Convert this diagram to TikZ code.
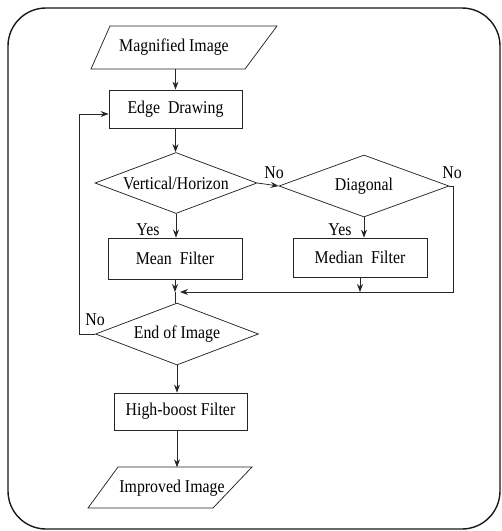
\documentclass[tikz,border=0pt]{standalone}
\usepackage{fontspec}
\setmainfont{Liberation Serif}
\usetikzlibrary{shapes.geometric,arrows.meta}
% slightly condensed lettering for the flowchart labels
\newcommand\narrowtext[1]{\scalebox{0.88}[1]{#1}}
\begin{document}
\begin{tikzpicture}[x=1pt,y=-1pt,
  line/.style={draw=black!85, line width=0.75pt},
  arr/.style={line, -{Stealth[length=8pt,width=6pt]}},
  txt/.style={font=\fontsize{18}{21}\selectfont, inner sep=0pt},
  proc/.style={rectangle, line, inner sep=0pt, font=\fontsize{18}{21}\selectfont},
  dec/.style={diamond, line, inner sep=0pt},
  io/.style={inner sep=0pt, font=\fontsize{18}{21}\selectfont},
]
\useasboundingbox (0,0) rectangle (502,531);

% outer frame
\draw[line width=1.4pt, draw=black!90, rounded corners=38pt] (8,8) rectangle (500,529);

% input / output parallelograms
\node[io, minimum width=150pt, minimum height=43pt] (mag) at (174,47.5) {\narrowtext{Magnified Image}};
\draw[line] (110,26) -- (277,26) -- (245,69) -- (91,69) -- cycle;

\node[io, minimum width=130pt, minimum height=41pt] (imp) at (172,488) {\narrowtext{Improved Image}};
\draw[line] (118,467) -- (252,467) -- (213,508) -- (88,508) -- cycle;

% process boxes
\node[proc, minimum width=133pt, minimum height=38pt] (edge) at (175.5,109) {\narrowtext{Edge\enspace Drawing}};
\node[proc, minimum width=134pt, minimum height=41pt] (mean) at (175,258.5) {\narrowtext{Mean\enspace Filter}};
\node[proc, minimum width=134pt, minimum height=39pt] (median) at (360,257.5) {\narrowtext{Median\enspace Filter}};
\node[proc, minimum width=133pt, minimum height=37pt] (hb) at (180.5,411.5) {\narrowtext{High-boost Filter}};

% decisions
\node[dec, minimum width=162pt, minimum height=61pt] (d1) at (176,183) {};
\node[txt] at (d1) {\narrowtext{Vertical/Horizon}};
\node[dec, minimum width=170pt, minimum height=62pt] (d2) at (364,186) {};
\node[txt] at (d2) {\narrowtext{Diagonal}};
\node[dec, minimum width=163pt, minimum height=62pt] (d3) at (177,334) {};
\node[txt] at (d3) {\narrowtext{End of Image}};

% connectors
\coordinate (j) at (175,292);
\coordinate (rx) at (453,292);
\draw[arr] (mag.south -| edge.north) -- (edge.north);
\draw[arr] (edge.south) -- (edge.south |- d1.north);
\draw[arr] (d1.east) -- (d2.west);
\draw[arr] (d1.south) -- (d1.south |- mean.north);
\draw[arr] (d2.south) -- (d2.south |- median.north);
\draw[arr, shorten >=5pt] (d2.east) -- (d2.east -| rx) -- (rx) -- (j);
\draw[arr] (median.south) -- (median.south |- rx);
\draw[arr] (mean.south) -- (j);
\draw[line] (j) -- (j |- d3.north);
\draw[arr] (d3.west) -- ++(-16,0) |- ([yshift=-5pt]edge.west);
\draw[arr] (d3.south) -- (d3.south |- hb.north);
\draw[arr] (hb.south -| d3.south) -- (d3.south |- imp.north);

% branch labels
\node[txt] at (274,173) {\narrowtext{No}};
\node[txt] at (452,173) {\narrowtext{No}};
\node[txt] at (95,320) {\narrowtext{No}};
\node[txt] at (148,230) {\narrowtext{Yes}};
\node[txt] at (340,230) {\narrowtext{Yes}};
\end{tikzpicture}
\end{document}
